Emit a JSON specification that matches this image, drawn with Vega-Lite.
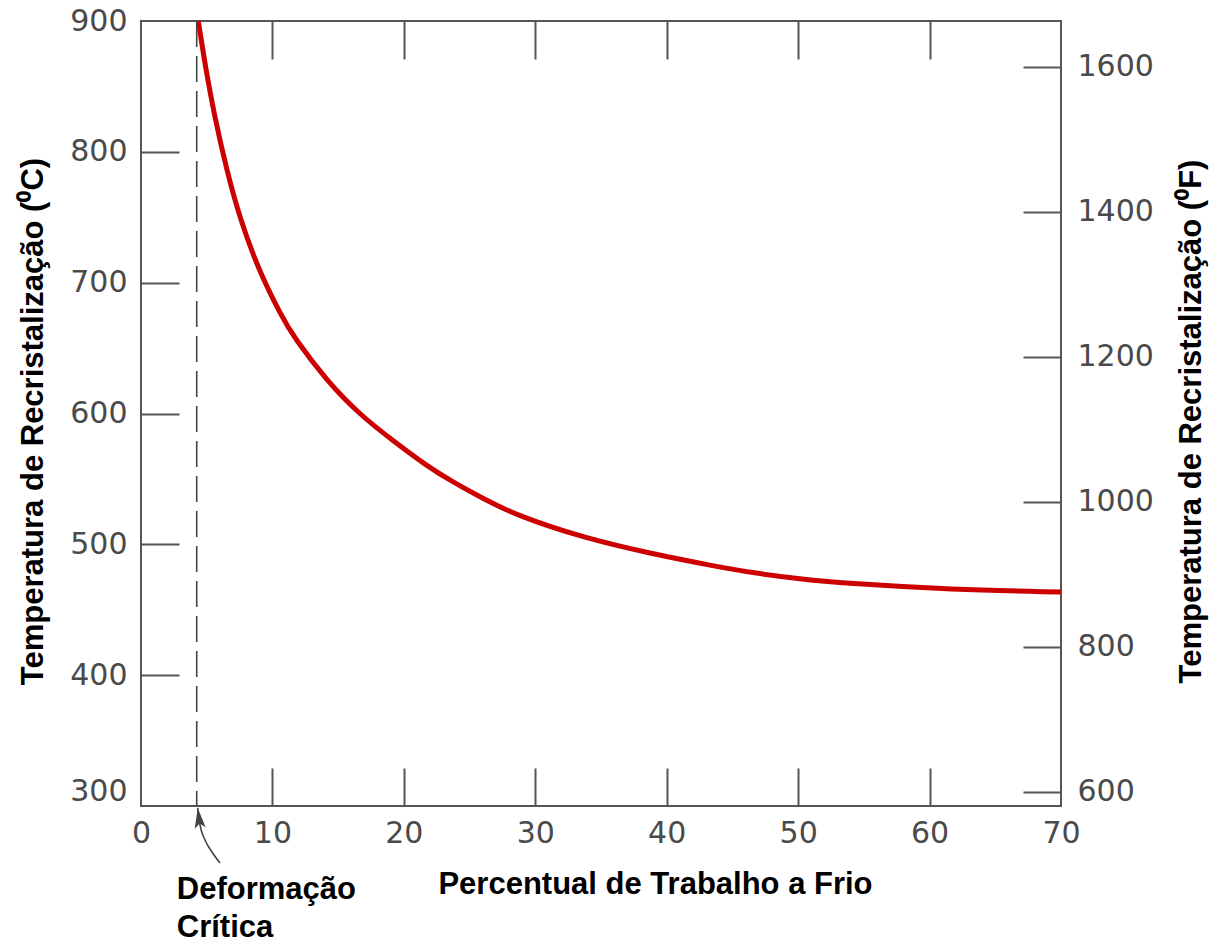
{
  "$schema": "https://vega.github.io/schema/vega-lite/v6.json",
  "width": 920,
  "height": 785,
  "autosize": {"type": "none"},
  "padding": {"left": 141, "top": 21, "right": 150, "bottom": 139},
  "background": "white",
  "datasets": {
    "curve": [
      {"pct": 4.36, "temp": 900},
      {"pct": 4.95, "temp": 862},
      {"pct": 5.58, "temp": 828},
      {"pct": 6.52, "temp": 786},
      {"pct": 7.53, "temp": 749},
      {"pct": 8.93, "temp": 710},
      {"pct": 10.71, "temp": 674},
      {"pct": 11.59, "temp": 659},
      {"pct": 14.13, "temp": 625},
      {"pct": 16.66, "temp": 599},
      {"pct": 19.2, "temp": 579},
      {"pct": 21.74, "temp": 560},
      {"pct": 23.5, "temp": 549},
      {"pct": 26.0, "temp": 535},
      {"pct": 28.59, "temp": 522},
      {"pct": 33.65, "temp": 505},
      {"pct": 38.73, "temp": 493},
      {"pct": 43.8, "temp": 483},
      {"pct": 46.34, "temp": 478.5},
      {"pct": 50.14, "temp": 473.5},
      {"pct": 53.95, "temp": 470},
      {"pct": 61.55, "temp": 465.5},
      {"pct": 70, "temp": 463.5}
    ],
    "fahr": [
      {"pct": 0, "F": 600},
      {"pct": 70, "F": 1600}
    ],
    "critical": [{"pct": 4.24}],
    "arrow": [
      {"pct": 4.31, "temp": 298.5},
      {"pct": 4.49, "temp": 285.5},
      {"pct": 4.87, "temp": 274.0},
      {"pct": 5.4, "temp": 264.8},
      {"pct": 6.01, "temp": 256.4}
    ],
    "arrowhead": [{"pct": 4.41, "temp": 290.8}],
    "notes": [
      {"t": "Deformação", "pct": 2.72, "temp": 228.9},
      {"t": "Crítica", "pct": 2.72, "temp": 199.9}
    ]
  },
  "config": {
    "view": {"stroke": "#555555", "strokeWidth": 2},
    "axis": {
      "grid": false,
      "domain": false,
      "labelFont": "DejaVu Sans",
      "labelFontSize": 30,
      "labelColor": "#4a4a4a",
      "labelFlush": false,
      "tickColor": "#555555",
      "tickWidth": 2,
      "titleFont": "Liberation Sans",
      "titleFontSize": 31,
      "titleFontWeight": "bold",
      "titleColor": "#000000"
    }
  },
  "layer": [
    {
      "data": {"name": "curve"},
      "mark": {"type": "line", "color": "#cc0000", "strokeWidth": 5, "interpolate": "basis", "strokeCap": "butt"},
      "encoding": {
        "x": {
          "field": "pct", "type": "quantitative",
          "scale": {"domain": [0, 70], "nice": false, "zero": false},
          "axis": {
            "orient": "bottom", "values": [0, 10, 20, 30, 40, 50, 60, 70], "format": "d",
            "ticks": false, "labelPadding": 12,
            "title": "Percentual de Trabalho a Frio",
            "titleX": 514, "titleY": 87, "titleBaseline": "alphabetic", "titleAlign": "center"
          }
        },
        "y": {
          "field": "temp", "type": "quantitative",
          "scale": {"domain": [300, 900], "nice": false, "zero": false},
          "axis": {
            "orient": "left", "values": [300, 400, 500, 600, 700, 800, 900], "format": "d",
            "ticks": false, "labelPadding": 14,
            "labelBaseline": {"condition": {"test": "datum.value === 300", "value": "bottom"}, "value": "middle"},
            "title": "Temperatura de Recristalização (⁰C)",
            "titleX": -108, "titleY": 400, "titleBaseline": "middle", "titleAngle": -90, "titleAlign": "center"
          }
        }
      }
    },
    {
      "data": {"name": "curve"},
      "mark": {"type": "point", "opacity": 0},
      "encoding": {
        "x": {
          "field": "pct", "type": "quantitative",
          "scale": {"domain": [0, 70], "nice": false, "zero": false},
          "axis": {"orient": "bottom", "values": [10, 20, 30, 40, 50, 60], "labels": false, "tickSize": -38, "title": null}
        },
        "y": {
          "field": "temp", "type": "quantitative",
          "scale": {"domain": [300, 900], "nice": false, "zero": false},
          "axis": {"orient": "left", "values": [400, 500, 600, 700, 800], "labels": false, "tickSize": -38, "title": null}
        }
      }
    },
    {
      "data": {"name": "fahr"},
      "mark": {"type": "point", "opacity": 0},
      "encoding": {
        "x": {
          "field": "pct", "type": "quantitative",
          "scale": {"domain": [0, 70], "nice": false, "zero": false},
          "axis": {"orient": "top", "values": [10, 20, 30, 40, 50, 60], "labels": false, "tickSize": -38, "title": null}
        },
        "y": {
          "field": "F", "type": "quantitative",
          "scale": {"domain": [580.3, 1663], "nice": false, "zero": false},
          "axis": {
            "orient": "right", "values": [600, 800, 1000, 1200, 1400, 1600], "format": "d",
            "ticks": false, "labelPadding": 16,
            "title": "Temperatura de Recristalização (⁰F)",
            "titleX": 130, "titleY": 400, "titleBaseline": "middle", "titleAngle": -90, "titleAlign": "center"
          }
        }
      }
    },
    {
      "data": {"name": "fahr"},
      "mark": {"type": "point", "opacity": 0},
      "encoding": {
        "x": {"field": "pct", "type": "quantitative", "scale": {"domain": [0, 70], "nice": false, "zero": false}, "axis": null},
        "y": {
          "field": "F", "type": "quantitative",
          "scale": {"domain": [580.3, 1663], "nice": false, "zero": false},
          "axis": {"orient": "right", "values": [600, 800, 1000, 1200, 1400, 1600], "labels": false, "tickSize": -38, "title": null}
        }
      }
    },
    {
      "data": {"name": "critical"},
      "mark": {"type": "rule", "color": "#444444", "strokeWidth": 1.6, "strokeDash": [26, 9]},
      "encoding": {
        "x": {"field": "pct", "type": "quantitative", "scale": {"domain": [0, 70], "nice": false, "zero": false}, "axis": null}
      }
    },
    {
      "data": {"name": "arrow"},
      "mark": {"type": "line", "color": "#444444", "strokeWidth": 1.6, "interpolate": "monotone"},
      "encoding": {
        "x": {"field": "pct", "type": "quantitative", "scale": {"domain": [0, 70], "nice": false, "zero": false}, "axis": null},
        "y": {"field": "temp", "type": "quantitative", "scale": {"domain": [300, 900], "nice": false, "zero": false}, "axis": null}
      }
    },
    {
      "data": {"name": "arrowhead"},
      "mark": {"type": "point", "shape": "M0,-1L-0.55,1L0,0.55L0.55,1Z", "size": 400, "filled": true, "color": "#444444", "opacity": 1, "angle": -7},
      "encoding": {
        "x": {"field": "pct", "type": "quantitative", "scale": {"domain": [0, 70], "nice": false, "zero": false}, "axis": null},
        "y": {"field": "temp", "type": "quantitative", "scale": {"domain": [300, 900], "nice": false, "zero": false}, "axis": null}
      }
    },
    {
      "data": {"name": "notes"},
      "mark": {"type": "text", "align": "left", "baseline": "alphabetic", "font": "Liberation Sans", "fontSize": 31, "fontWeight": "bold", "color": "#000000"},
      "encoding": {
        "x": {"field": "pct", "type": "quantitative", "scale": {"domain": [0, 70], "nice": false, "zero": false}, "axis": null},
        "y": {"field": "temp", "type": "quantitative", "scale": {"domain": [300, 900], "nice": false, "zero": false}, "axis": null},
        "text": {"field": "t"}
      }
    }
  ],
  "resolve": {
    "scale": {"y": "independent"},
    "axis": {"x": "independent", "y": "independent"}
  }
}
